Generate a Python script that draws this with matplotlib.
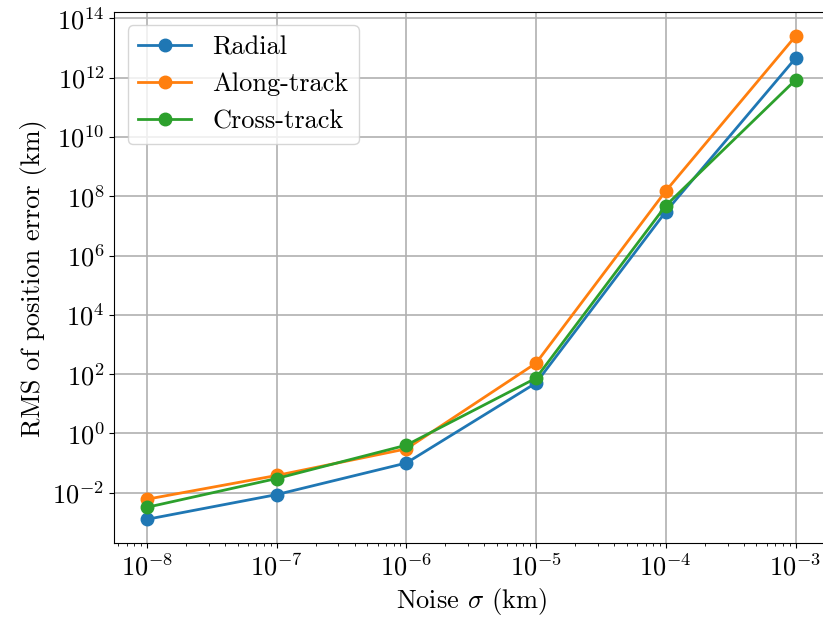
import numpy as np
import matplotlib
matplotlib.use("Agg")
import matplotlib.pyplot as plt

plt.rcParams['font.family'] = ['cmr10', 'DejaVu Serif']
plt.rcParams['mathtext.fontset'] = 'cm'
plt.rcParams['axes.formatter.use_mathtext'] = True
plt.rcParams['axes.unicode_minus'] = False
plt.rcParams['font.size'] = 19

# noise levels and RMS position errors per component
sigma = [1e-8, 1e-7, 1e-6, 1e-5, 1e-4, 1e-3]
radial = [1.26e-3, 8.6e-3, 0.10, 50, 3.0e7, 4.5e12]
along_track = [6.0e-3, 0.038, 0.30, 234, 1.5e8, 2.5e13]
cross_track = [3.2e-3, 0.030, 0.40, 73, 4.8e7, 8.3e11]

fig = plt.figure(figsize=(8.23, 6.2), dpi=100)
ax = fig.add_subplot(111)

ax.plot(sigma, radial, 'o-', lw=2, ms=9, label='Radial')
ax.plot(sigma, along_track, 'o-', lw=2, ms=9, label='Along-track')
ax.plot(sigma, cross_track, 'o-', lw=2, ms=9, label='Cross-track')

ax.set_xscale('log')
ax.set_yscale('log')
ax.set_yticks([10.0**k for k in range(-2, 15, 2)])
ax.yaxis.set_minor_locator(matplotlib.ticker.NullLocator())
ax.grid(True, which='major', color='#b0b0b0', lw=1.2)
ax.set_xlabel(r'Noise $\sigma$ (km)')
ax.set_ylabel('RMS of position error (km)')
ax.legend(loc='upper left')

# the right spine runs just past the edge of the saved image
fig.subplots_adjust(left=0.139, right=1.006, top=0.9806, bottom=0.1234)
fig.savefig('out.png')
